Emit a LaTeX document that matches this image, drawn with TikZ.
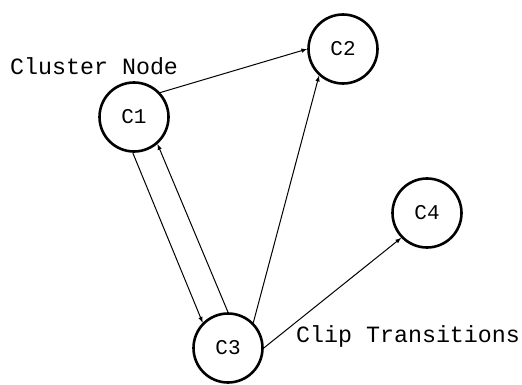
\documentclass[tikz,border=0pt]{standalone}
\usepackage{fontspec}
\setmonofont{Liberation Mono}
\usetikzlibrary{arrows}
\tikzset{
 clnode/.style={circle,draw,line width=2.6pt,minimum size=69pt,inner sep=0pt,font=\ttfamily\fontsize{21}{21}\selectfont},
 cltext/.style={anchor=base west,inner sep=0pt,font=\ttfamily\fontsize{23.3}{23.3}\selectfont},
 trans/.style={-latex,line width=1pt}
}
\begin{document}
\begin{tikzpicture}[x=1pt,y=-1pt]
\useasboundingbox (0,0) rectangle (522,385);
\node[clnode] (c1) at (134,117) {C1};
\node[clnode] (c2) at (343,49) {C2};
\node[clnode] (c3) at (228,348) {C3};
\node[clnode] (c4) at (427,213) {C4};
\node[cltext] (lcluster) at (10,75) {Cluster Node};
\node[cltext] (lclip) at (296,342) {Clip Transitions};
\draw[trans] (c1.43) -- (c2.180);
\draw[trans] (c1.268) -- (c3.135);
\draw[trans] (c3.90) -- (c1.311);
\draw[trans] (c3.45) -- (c2.228);
\draw[trans] (c3.0) -- (c4.224);
\end{tikzpicture}
\end{document}
